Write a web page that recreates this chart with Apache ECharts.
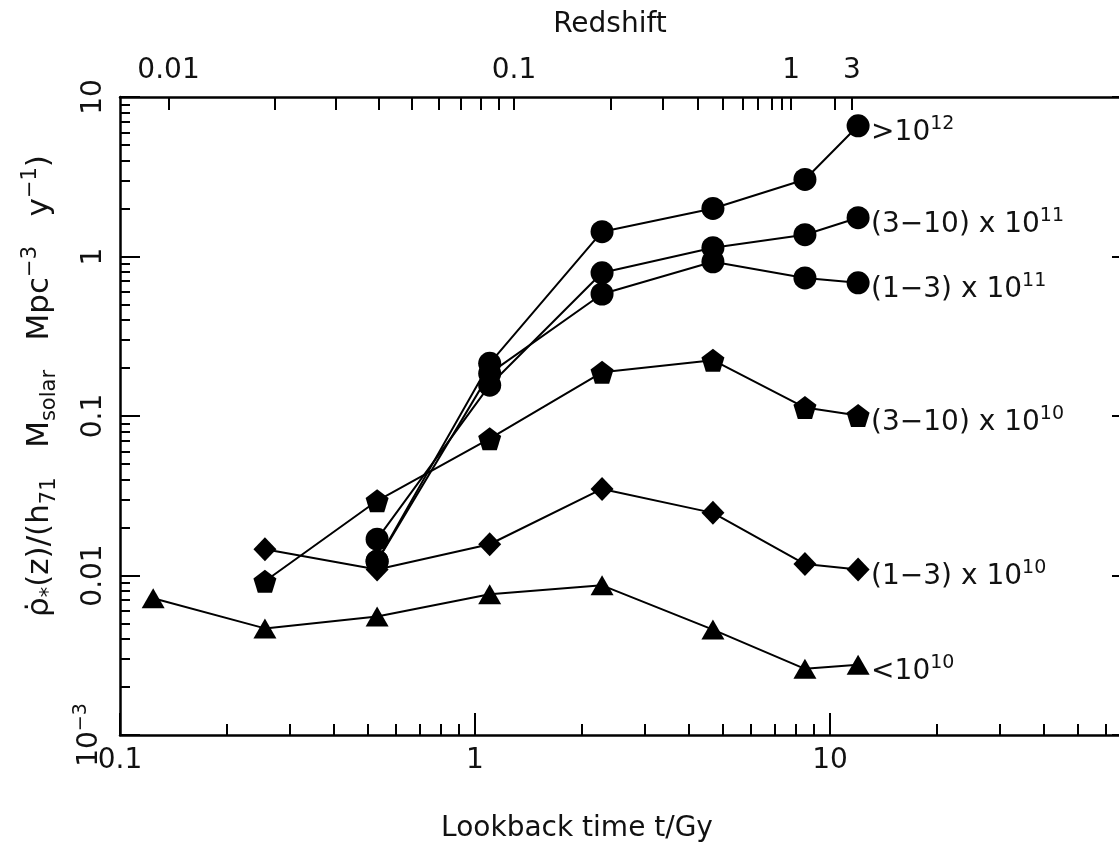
<!DOCTYPE html>
<html>
<head>
<meta charset="utf-8">
<script src="https://cdn.jsdelivr.net/npm/echarts@6/dist/echarts.min.js"></script>
<style>
  html, body { margin: 0; padding: 0; background: #fff; }
  #chart { width: 1119px; height: 854px; }
</style>
</head>
<body>
<div id="chart"></div>
<script>
// lookback time bins, Gyr
const tUpper = [0.53, 1.1, 2.28, 4.68, 8.5, 12.0];
const tMid = [0.256, 0.53, 1.1, 2.28, 4.68, 8.5, 12.0];
const tLow = [0.124, 0.256, 0.53, 1.1, 2.28, 4.68, 8.5, 12.0];

// star formation rate density per mass bin
const sfrGt12 = [0.0123, 0.214, 1.43, 2.0, 3.04, 6.6];
const sfr3to10e11 = [0.0169, 0.156, 0.79, 1.135, 1.37, 1.75];
const sfr1to3e11 = [0.0123, 0.185, 0.582, 0.927, 0.734, 0.684];
const sfr3to10e10 = [0.0092, 0.0294, 0.0721, 0.188, 0.224, 0.113, 0.1007];
const sfr1to3e10 = [0.0146, 0.0109, 0.0157, 0.0349, 0.0247, 0.0118, 0.0109];
const sfrLt10 = [0.0072, 0.00466, 0.00553, 0.00762, 0.00868, 0.00458, 0.0026, 0.00276];

// axis ticks
const xMajor = [0.1, 1, 10];
const xMajorLabels = ['0.1', '1', '10'];
const xMinor = [0.2, 0.3, 0.4, 0.5, 0.6, 0.7, 0.8, 0.9, 2, 3, 4, 5, 6, 7, 8, 9, 20, 30, 40, 50, 60];
const yMajor = [0.001, 0.01, 0.1, 1, 10];
const yMajorLabels = ['{b|10}{s|−3}', '0.01', '0.1', '1', '10'];
const yMinor = [0.002, 0.003, 0.004, 0.005, 0.006, 0.007, 0.008, 0.009,
  0.02, 0.03, 0.04, 0.05, 0.06, 0.07, 0.08, 0.09,
  0.2, 0.3, 0.4, 0.5, 0.6, 0.7, 0.8, 0.9, 2, 3, 4, 5, 6, 7, 8, 9];
// redshift ticks placed at their lookback times
const zTickTimes = [0.137, 0.273, 0.406, 0.537, 0.665, 0.792, 0.913, 1.04, 1.168, 1.288,
  2.416, 3.385, 4.25, 4.995, 5.69, 6.27, 6.87, 7.33, 7.77, 10.33, 11.53];
const zLabelTimes = [0.137, 1.288, 7.77, 11.53];
const zLabels = ['0.01', '0.1', '1', '3'];

const FONT = 'DejaVu Sans';
const INK = '#111';
const X_MIN = 0.1, X_MAX = 70, Y_MIN = 0.001, Y_MAX = 10;

function pick(v, vals, labels) {
  let best = 0;
  for (let i = 0; i < vals.length; i++) {
    if (Math.abs(Math.log10(vals[i]) - Math.log10(v)) < Math.abs(Math.log10(vals[best]) - Math.log10(v))) best = i;
  }
  return labels[best];
}

const pentagon = 'path://M50,0 L97.55,34.55 L79.39,90.45 L20.61,90.45 L2.45,34.55 Z';

const endRich = {
  t: { fontSize: 28, fontFamily: FONT, color: INK, lineHeight: 36 },
  p: { fontSize: 19, fontFamily: FONT, color: INK, lineHeight: 12, verticalAlign: 'top' }
};

function mkSeries(name, times, vals, symbol, size, label) {
  return {
    name: name,
    type: 'line',
    xAxisIndex: 0,
    yAxisIndex: 0,
    data: times.map((t, i) => [t, vals[i]]),
    symbol: symbol,
    symbolSize: size,
    showAllSymbol: true,
    itemStyle: { color: '#000' },
    lineStyle: { color: '#000', width: 2 },
    endLabel: {
      show: true,
      formatter: label,
      distance: 13,
      offset: [0, 7],
      rich: endRich
    },
    animation: false,
    z: 3
  };
}

const chart = echarts.init(document.getElementById('chart'));

const logAxisBase = { type: 'log', logBase: 10, min: X_MIN, max: X_MAX, splitLine: { show: false } };
const logYBase = { type: 'log', logBase: 10, min: Y_MIN, max: Y_MAX, splitLine: { show: false } };

chart.setOption({
  animation: false,
  grid: { left: 120, right: -11, top: 97, bottom: 119, containLabel: false, outerBoundsMode: 'none' },
  xAxis: [
    Object.assign({}, logAxisBase, {
      position: 'bottom',
      axisLine: { show: true, lineStyle: { color: '#000', width: 2.5 } },
      axisTick: { show: true, inside: true, length: 22, customValues: xMajor, lineStyle: { color: '#000', width: 2 } },
      axisLabel: {
        customValues: xMajor,
        formatter: v => pick(v, xMajor, xMajorLabels),
        fontSize: 28, fontFamily: FONT, color: INK, margin: 12
      },
      name: 'Lookback time t/Gy',
      nameLocation: 'middle',
      nameGap: 80,
      nameTextStyle: { fontSize: 28, fontFamily: FONT, color: INK, padding: [0, 96, 0, 0] }
    }),
    Object.assign({}, logAxisBase, {
      position: 'bottom',
      axisLine: { show: false },
      axisTick: { show: true, inside: true, length: 11, customValues: xMinor, lineStyle: { color: '#000', width: 2 } },
      axisLabel: { show: false }
    }),
    Object.assign({}, logAxisBase, {
      position: 'top',
      axisLine: { show: true, lineStyle: { color: '#000', width: 2.5 } },
      axisTick: { show: true, inside: true, length: 13, customValues: zTickTimes, lineStyle: { color: '#000', width: 2 } },
      axisLabel: {
        customValues: zLabelTimes,
        formatter: v => pick(v, zLabelTimes, zLabels),
        fontSize: 28, fontFamily: FONT, color: INK, margin: 12
      },
      name: 'Redshift',
      nameLocation: 'middle',
      nameGap: 58,
      nameTextStyle: { fontSize: 28, fontFamily: FONT, color: INK, padding: [0, 30, 0, 0] }
    })
  ],
  yAxis: [
    Object.assign({}, logYBase, {
      position: 'left',
      axisLine: { show: true, lineStyle: { color: '#000', width: 2.5 } },
      axisTick: { show: true, inside: true, length: 20, customValues: yMajor, lineStyle: { color: '#000', width: 2 } },
      axisLabel: {
        customValues: yMajor,
        formatter: v => pick(v, yMajor, yMajorLabels),
        rotate: 90,
        fontSize: 28, fontFamily: FONT, color: INK, margin: 12,
        rich: {
          b: { fontSize: 28, fontFamily: FONT, color: INK, lineHeight: 36 },
          s: { fontSize: 19, fontFamily: FONT, color: INK, lineHeight: 12, verticalAlign: 'top' }
        }
      },
      name: '{r|ρ̇}{sub|*}{r|(z)/(h}{sub|71}{r|   M}{sub|solar}{r|   Mpc}{sup|−3}{r|   y}{sup|−1}{r|)}',
      nameLocation: 'middle',
      nameGap: 60,
      nameTextStyle: {
        padding: [0, 0, 0, 60],
        rich: {
          r: { fontSize: 31, fontFamily: FONT, color: INK, lineHeight: 40 },
          sub: { fontSize: 21, fontFamily: FONT, color: INK, lineHeight: 22, verticalAlign: 'bottom' },
          sup: { fontSize: 21, fontFamily: FONT, color: INK, lineHeight: 18, verticalAlign: 'top' }
        }
      }
    }),
    Object.assign({}, logYBase, {
      position: 'left',
      axisLine: { show: false },
      axisTick: { show: true, inside: true, length: 10, customValues: yMinor, lineStyle: { color: '#000', width: 2 } },
      axisLabel: { show: false }
    }),
    Object.assign({}, logYBase, {
      position: 'right',
      axisLine: { show: true, lineStyle: { color: '#000', width: 2.5 } },
      axisTick: { show: true, inside: true, length: 18, customValues: yMajor, lineStyle: { color: '#000', width: 2 } },
      axisLabel: { show: false }
    })
  ],
  series: [
    mkSeries('gt12', tUpper, sfrGt12, 'circle', 23, '{t|>10}{p|12}'),
    mkSeries('3-10e11', tUpper, sfr3to10e11, 'circle', 23, '{t|(3−10) x 10}{p|11}'),
    mkSeries('1-3e11', tUpper, sfr1to3e11, 'circle', 23, '{t|(1−3) x 10}{p|11}'),
    mkSeries('3-10e10', tMid, sfr3to10e10, pentagon, 23, '{t|(3−10) x 10}{p|10}'),
    mkSeries('1-3e10', tMid, sfr1to3e10, 'diamond', [23, 24], '{t|(1−3) x 10}{p|10}'),
    mkSeries('lt10', tLow, sfrLt10, 'triangle', [23, 20], '{t|<10}{p|10}')
  ]
});
</script>
</body>
</html>
